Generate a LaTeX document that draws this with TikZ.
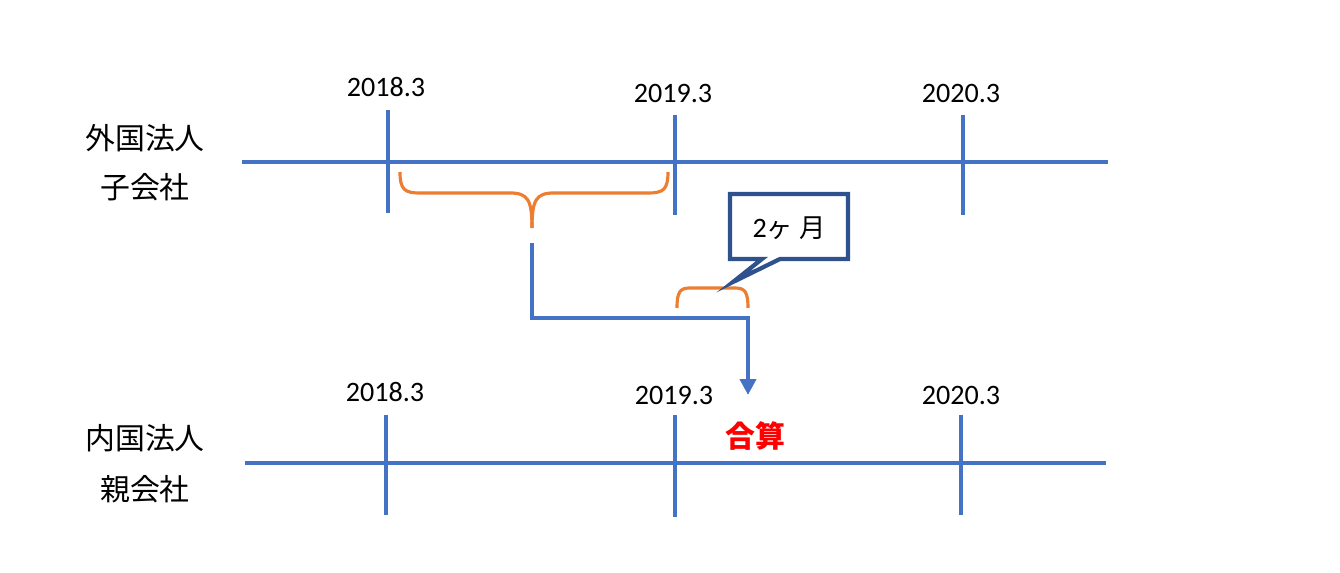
\documentclass[tikz,border=0pt]{standalone}
\usepackage{fontspec}
\usetikzlibrary{arrows.meta}
\setmainfont{Carlito}
\newfontfamily\cjk{Noto Sans CJK JP}
\definecolor{axis}{RGB}{68,114,196}
\definecolor{brc}{RGB}{237,125,49}
\definecolor{cbox}{RGB}{47,82,143}
\begin{document}
\begin{tikzpicture}[x=0.02cm,y=-0.02cm,
  ax/.style={axis,line width=2.2pt},
  br/.style={brc,line width=1.8pt},
  lab/.style={font=\fontsize{16}{18}\selectfont},
  jlab/.style={font=\cjk\fontsize{17}{20}\selectfont}]
\useasboundingbox (0,0) rectangle (1340,573);
% top
\draw[ax] (242,162) -- (1108,162);
\draw[ax] (388,110) -- (388,213);
\draw[ax] (675,115) -- (675,215);
\draw[ax] (963,115) -- (963,215);
\node[lab] (t1) at (386,87) {2018.3};
\node[lab] (t2) at (673,93) {2019.3};
\node[lab] (t3) at (961,93) {2020.3};
\node[jlab] (a1) at (145,138) {外国法人};
\node[jlab] (a2) at (145,187) {子会社};
% bottom
\draw[ax] (245,463) -- (1106,463);
\draw[ax] (386,415) -- (386,515);
\draw[ax] (675,415) -- (675,517);
\draw[ax] (961,415) -- (961,515);
\node[lab] (b1) at (385,392) {2018.3};
\node[lab] (b2) at (674,395) {2019.3};
\node[lab] (b3) at (961,395) {2020.3};
\node[jlab] (c1) at (145,438) {内国法人};
\node[jlab] (c2) at (145,489) {親会社};
\node[font=\cjk\bfseries\fontsize{17}{20}\selectfont,text=red] (g) at (755,436) {合算};
% braces
\draw[br] (400,172) .. controls (400,190) and (405,193) .. (420,193) -- (510,193)
  .. controls (528,193) and (532,200) .. (532,228);
\draw[br] (668,172) .. controls (668,190) and (663,193) .. (648,193) -- (554,193)
  .. controls (536,193) and (532,200) .. (532,228);
\draw[br] (677,308) .. controls (677,292) and (680,288) .. (690,288) -- (735,288)
  .. controls (745,288) and (748,292) .. (748,308);
% connector
\coordinate (s) at (532,243);
\coordinate (e) at (748,395);
\draw[axis,line width=2.2pt,-{Triangle[length=9pt,width=9pt]}] (s) -- (532,318) -- (748,318) -- (e);
% callout
\draw[cbox,line width=2.4pt,fill=white] (730,194) -- (848,194) -- (848,259) -- (780,259) -- (733,282) -- (762,259) -- (730,259) -- cycle;
\node[font=\fontsize{16}{18}\selectfont] (m) at (789,228) {2{\cjk\fontsize{15}{18}\selectfont ヶ 月}};
\end{tikzpicture}
\end{document}
